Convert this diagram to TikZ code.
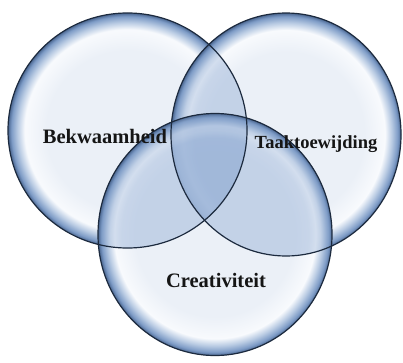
\documentclass[tikz,border=0pt]{standalone}
\usepackage{fontspec}
\setmainfont{Liberation Serif}
\definecolor{bin}{HTML}{EBF0F7}
\definecolor{bhi}{HTML}{F8FAFD}
\definecolor{bmid}{HTML}{B9CBE3}
\definecolor{brim}{HTML}{7D9BC6}
\definecolor{bdark}{HTML}{4A6690}
\definecolor{edgec}{HTML}{1C2A3E}
\definecolor{lensc}{HTML}{93AED5}
\definecolor{txtc}{HTML}{151515}
\pgfdeclareradialshading{bubble}{\pgfpoint{0bp}{0bp}}{color(0bp)=(bin); color(17bp)=(bin); color(21.5bp)=(bhi); color(23bp)=(bmid); color(24.3bp)=(brim); color(25bp)=(bdark); color(50bp)=(bdark)}
\pgfdeclareradialshading{lens}{\pgfpoint{0bp}{0bp}}{color(0bp)=(lensc); color(20bp)=(lensc); color(22.5bp)=(lensc!70!white); color(24.3bp)=(brim); color(25bp)=(bdark); color(50bp)=(bdark)}
\tikzset{
  bubblefill/.style={shading=bubble},
  lensfill/.style={shading=lens, opacity=0.45},
  rimline/.style={draw=edgec, line width=1.2pt},
  lbl/.style={font=\bfseries, text=txtc, anchor=base, inner sep=0pt}
}
\begin{document}
\begin{tikzpicture}[x=1pt,y=1pt]
\useasboundingbox (0,0) rectangle (403,362);
\fill[white] (0,0) rectangle (403,362);
\coordinate (L) at (127.5,231.5);
\coordinate (R) at (286,227.5);
\coordinate (B) at (215,127.5);
% bubble fills
\shade[bubblefill] (L) ellipse [x radius=119.5, y radius=117.5];
\shade[bubblefill] (R) ellipse [x radius=115, y radius=121.5];
\shade[bubblefill] (B) ellipse [x radius=117, y radius=121];
% overlaps
\begin{scope}
  \clip (L) ellipse [x radius=119.5, y radius=117.5];
  \shade[lensfill] (R) ellipse [x radius=115, y radius=121.5];
\end{scope}
\begin{scope}
  \clip (L) ellipse [x radius=119.5, y radius=117.5];
  \shade[lensfill] (B) ellipse [x radius=117, y radius=121];
\end{scope}
\begin{scope}
  \clip (R) ellipse [x radius=115, y radius=121.5];
  \shade[lensfill] (B) ellipse [x radius=117, y radius=121];
\end{scope}
% outlines
\draw[rimline] (L) ellipse [x radius=119.5, y radius=117.5];
\draw[rimline] (R) ellipse [x radius=115, y radius=121.5];
\draw[rimline] (B) ellipse [x radius=117, y radius=121];
% labels
\node[lbl, font=\bfseries\fontsize{20.5}{24}\selectfont] (tb) at (105,219) {Bekwaamheid};
\node[lbl, font=\bfseries\fontsize{18.5}{22}\selectfont] (tt) at (316,214) {Taaktoewijding};
\node[lbl, font=\bfseries\fontsize{20.5}{24}\selectfont] (tc) at (216,75) {Creativiteit};
\end{tikzpicture}
\end{document}
